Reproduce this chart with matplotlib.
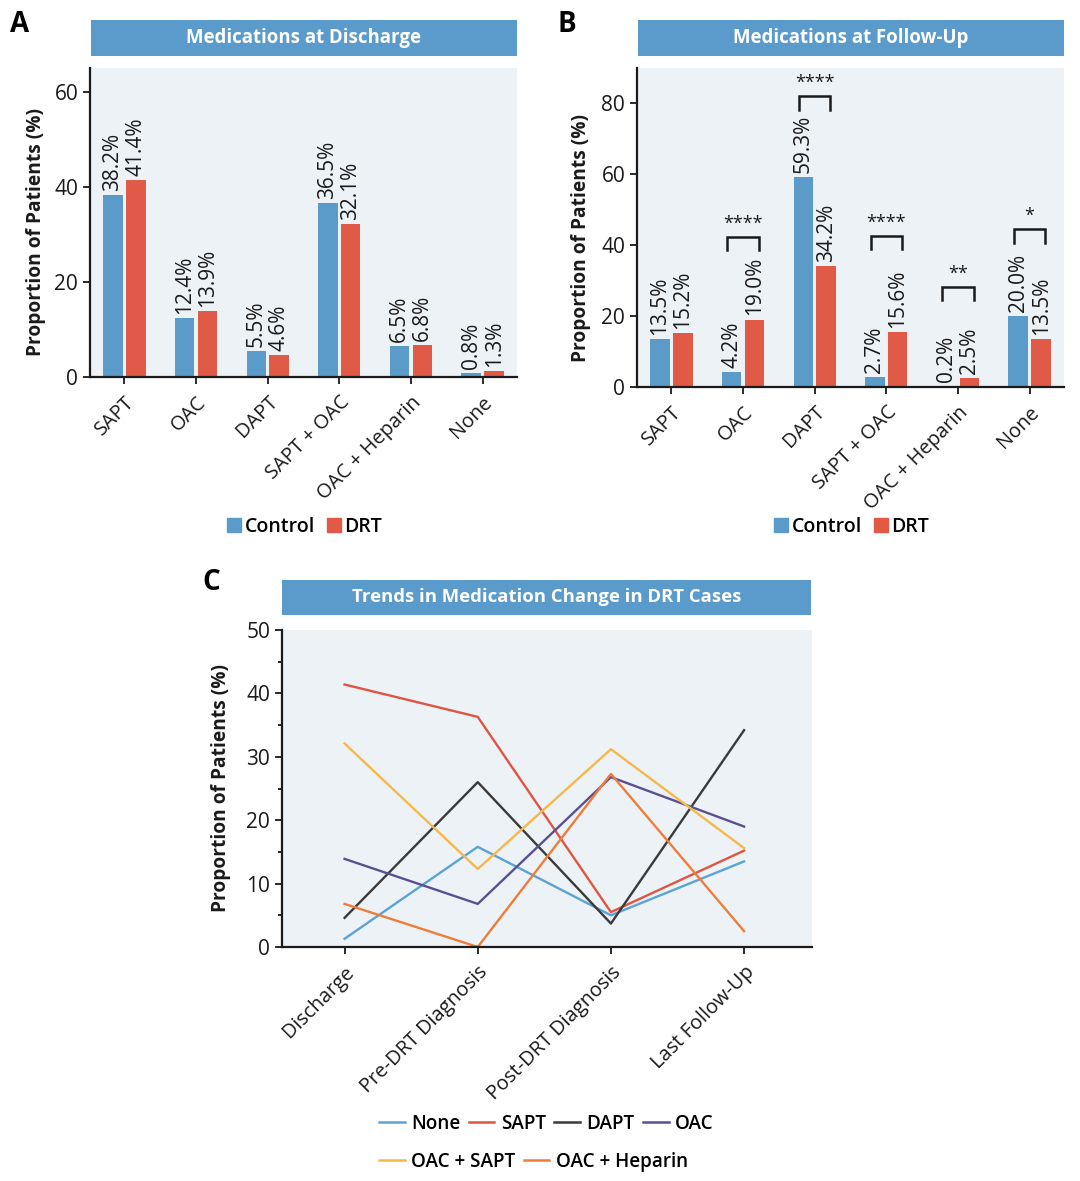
import matplotlib
matplotlib.use("Agg")
import matplotlib.pyplot as plt
from matplotlib.patches import Rectangle
from matplotlib.lines import Line2D
from matplotlib.ticker import MultipleLocator
import numpy as np

plt.rcParams['font.family'] = ['Open Sans', 'DejaVu Sans']

# ---------------- data ----------------
cats_a = ["SAPT", "OAC", "DAPT", "SAPT + OAC", "OAC + Heparin", "None"]
control_a = [38.2, 12.4, 5.5, 36.5, 6.5, 0.8]
drt_a = [41.4, 13.9, 4.6, 32.1, 6.8, 1.3]

cats_b = ["SAPT", "OAC", "DAPT", "SAPT + OAC", "OAC + Heparin", "None"]
control_b = [13.5, 4.2, 59.3, 2.7, 0.2, 20.0]
drt_b = [15.2, 19.0, 34.2, 15.6, 2.5, 13.5]
sig_idx = [1, 2, 3, 4, 5]
sig_stars = ["****", "****", "****", "**", "*"]
sig_height = [42.4, 82.0, 42.7, 28.3, 44.5]

stages_c = ["Discharge", "Pre-DRT Diagnosis", "Post-DRT Diagnosis", "Last Follow-Up"]
series_c = ["None", "SAPT", "DAPT", "OAC", "OAC + SAPT", "OAC + Heparin"]
none_c = [1.3, 15.8, 5.0, 13.5]
sapt_c = [41.4, 36.3, 5.5, 15.2]
dapt_c = [4.6, 26.0, 3.7, 34.2]
oac_c = [13.9, 6.8, 26.8, 19.0]
oacsapt_c = [32.1, 12.3, 31.2, 15.6]
oachep_c = [6.8, 0.0, 27.3, 2.5]

# ---------------- styles ----------------
BLUE = "#5B9BC9"
RED = "#E05A47"
BG = "#EDF2F7"
BANNER = "#5B9BCB"
TXT = "#1a1a1a"
line_colors = ["#5BA3D6", "#E05541", "#3A3A3A", "#5B4F94", "#F7B84A", "#EE7D3A"]

W, H = 1080, 1181
fig = plt.figure(figsize=(W / 100, H / 100), dpi=100)


def px_axes(l, t, r, b):
    return fig.add_axes([l / W, 1 - b / H, (r - l) / W, (b - t) / H])


def banner(l, t, r, b, text, size):
    fig.patches.append(Rectangle((l / W, 1 - b / H), (r - l) / W, (b - t) / H,
                                 transform=fig.transFigure, facecolor=BANNER,
                                 edgecolor="none", zorder=0))
    fig.text((l + r) / 2 / W, 1 - (t + b) / 2 / H, text, ha="center", va="center",
             color="white", fontsize=size, fontweight="bold")


def style_axes(ax):
    ax.set_facecolor(BG)
    for s in ["top", "right"]:
        ax.spines[s].set_visible(False)
    for s in ["left", "bottom"]:
        ax.spines[s].set_linewidth(1.6)
        ax.spines[s].set_color(TXT)
    ax.tick_params(axis="both", direction="out", length=5, width=1.3, colors=TXT)
    ax.tick_params(axis="y", labelsize=15)
    ax.tick_params(axis="x", labelsize=14.4, pad=6)
    for lab in ax.get_yticklabels() + ax.get_xticklabels():
        lab.set_fontweight("medium")
    ax.set_ylabel("Proportion of Patients (%)", fontsize=13.8, fontweight="bold",
                  color=TXT)


def bar_panel(ax, cats, ctrl, drt, ymax, ystep):
    x = np.arange(len(cats))
    w = 0.27
    off = 0.16
    ax.bar(x - off, ctrl, w, color=BLUE, zorder=2)
    ax.bar(x + off, drt, w, color=RED, zorder=2)
    for xs, vals in [(x - off, ctrl), (x + off, drt)]:
        for xi, v in zip(xs, vals):
            ax.annotate(f"{v:.1f}%", (xi, v), xytext=(0, 3), textcoords="offset points",
                        rotation=90, ha="center", va="bottom", fontsize=15,
                        fontweight="medium", color=TXT)
    ax.set_xlim(-0.48, len(cats) - 0.52)
    ax.set_ylim(0, ymax)
    ax.yaxis.set_major_locator(MultipleLocator(ystep))
    ax.set_xticks(x)
    ax.set_xticklabels(cats, rotation=45, ha="right", va="top", rotation_mode="anchor")
    style_axes(ax)
    return x, off


# Panel A
axA = px_axes(90, 68, 517, 377)
bar_panel(axA, cats_a, control_a, drt_a, 65, 20)
axA.yaxis.set_label_coords(-0.103, 0.468)
banner(91, 20, 517, 56, "Medications at Discharge", 13.4)
fig.text(10 / W, 1 - 25 / H, "A", fontsize=20, fontweight="bold", va="center", ha="left")

# Panel B
axB = px_axes(637, 68, 1064, 387)
xb, offb = bar_panel(axB, cats_b, control_b, drt_b, 90, 20)
axB.yaxis.set_label_coords(-0.108, 0.468)
banner(638, 20, 1064, 56, "Medications at Follow-Up", 13.4)
fig.text(557 / W, 1 - 25 / H, "B", fontsize=20, fontweight="bold", va="center", ha="left")
for i, st, hgt in zip(sig_idx, sig_stars, sig_height):
    x0, x1 = xb[i] - offb - 0.06, xb[i] + offb + 0.06
    leg = 3.8
    axB.plot([x0, x0, x1, x1], [hgt - leg, hgt, hgt, hgt - leg], color=TXT,
             lw=1.8, zorder=3, solid_joinstyle="miter")
    axB.text(xb[i], hgt + 1.2, st, ha="center", va="bottom", fontsize=13,
             fontweight="medium", color=TXT)

# legends for A and B
for cx in [(90 + 517) / 2, (637 + 1064) / 2]:
    handles = [Line2D([], [], marker="s", ls="none", color=BLUE, markersize=9.5),
               Line2D([], [], marker="s", ls="none", color=RED, markersize=9.5)]
    fig.legend(handles, ["Control", "DRT"], loc="center", bbox_to_anchor=(cx / W, 1 - 527 / H),
               ncol=2, frameon=False, handletextpad=0.05, columnspacing=0.45,
               handlelength=1.0, prop={"weight": "semibold", "size": 14})

# Panel C
axC = px_axes(282, 630, 812, 947)
xc = np.arange(len(stages_c))
for name, vals, col in zip(series_c, [none_c, sapt_c, dapt_c, oac_c, oacsapt_c, oachep_c],
                           line_colors):
    axC.plot(xc, vals, color=col, lw=1.7, label=name, zorder=2)
axC.set_xlim(-0.47, 3.51)
axC.set_ylim(0, 50)
axC.yaxis.set_major_locator(MultipleLocator(10))
axC.yaxis.set_minor_locator(MultipleLocator(5))
axC.set_xticks(xc)
axC.set_xticklabels(stages_c, rotation=45, ha="right", va="top", rotation_mode="anchor")
style_axes(axC)
axC.tick_params(axis="y", which="minor", length=3, width=1.2)
axC.yaxis.set_label_coords(-0.096, 0.5)
banner(282, 580, 811, 615, "Trends in Medication Change in DRT Cases", 13.3)
fig.text(202 / W, 1 - 583 / H, "C", fontsize=20, fontweight="bold", va="center", ha="left")

hs = [Line2D([], [], color=c, lw=1.8) for c in line_colors]
legkw = dict(frameon=False, handletextpad=0.35, columnspacing=0.45, handlelength=1.35,
             prop={"weight": "semibold", "size": 13.6}, borderaxespad=0, borderpad=0)
fig.legend(hs[:4], series_c[:4], loc="center left", bbox_to_anchor=(379 / W, 1 - 1124 / H),
           ncol=4, **legkw)
fig.legend(hs[4:], series_c[4:], loc="center left", bbox_to_anchor=(379 / W, 1 - 1162 / H),
           ncol=2, **legkw)

fig.savefig("out.png", dpi=100, facecolor="white")
